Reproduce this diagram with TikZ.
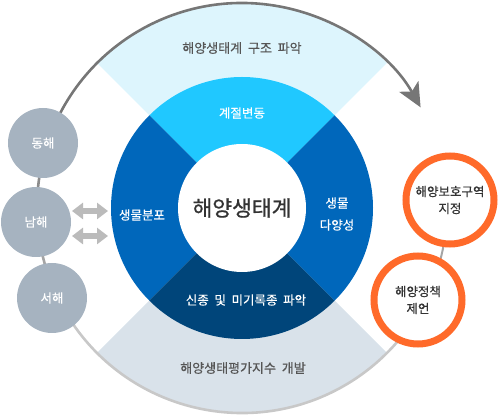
\documentclass[tikz,border=0pt]{standalone}
\usepackage{fontspec}
\setmainfont{Noto Sans CJK KR}[WordSpace=2, FakeBold=0.4]
\newfontfamily\bigfont{Noto Sans CJK KR}[FakeBold=0.8]
\usetikzlibrary{arrows.meta}
\definecolor{cyanq}{RGB}{32,200,255}
\definecolor{blueq}{RGB}{0,103,187}
\definecolor{darkq}{RGB}{0,69,122}
\definecolor{lcyan}{RGB}{221,245,253}
\definecolor{lgray}{RGB}{217,226,234}
\definecolor{seac}{RGB}{166,179,192}
\definecolor{arcd}{RGB}{118,118,118}
\definecolor{arcm}{RGB}{140,140,140}
\definecolor{arcl}{RGB}{165,165,165}
\definecolor{arcb}{RGB}{200,200,200}
\definecolor{orng}{RGB}{255,106,42}
\definecolor{dbl}{RGB}{187,187,187}
\definecolor{txtg}{RGB}{85,85,85}
\definecolor{txtd}{RGB}{51,51,51}
\begin{document}
\begin{tikzpicture}[x=1pt,y=1pt,
  arcline/.style={line width=2.6pt},
  sea/.style={circle, fill=seac, minimum size=70pt, inner sep=0pt, text=white, font=\fontsize{12.5}{15}\selectfont},
  act/.style={circle, draw=orng, line width=7pt, fill=white, minimum size=88pt, inner sep=0pt, align=center, text=txtd, font=\fontsize{12.5}{17}\selectfont},
  qlabel/.style={text=white, align=center, font=\fontsize{12.5}{22}\selectfont},
  olabel/.style={text=txtg, font=\fontsize{13}{15}\selectfont},
  dblarrow/.style={dbl, line width=6pt, {Triangle[length=11pt,width=16pt]}-{Triangle[length=11pt,width=16pt]}}
]
\useasboundingbox (0,0) rectangle (501,415);
\coordinate (C) at (242,207);
% outer light wedges
\fill[lcyan] (C) -- ++(45:205) arc[start angle=45,end angle=135,radius=205] -- cycle;
\fill[lgray] (C) -- ++(225:205) arc[start angle=225,end angle=315,radius=205] -- cycle;
% outer ring arcs
\draw[arcline, arcb] (C) ++(210:205) arc[start angle=210,end angle=338,radius=205];
\draw[line width=2pt, arcl] (C) ++(330:205) arc[start angle=330,end angle=365,radius=205];
\draw[arcline, arcl] (C) ++(190:205) arc[start angle=190,end angle=212,radius=205];
\draw[arcline, arcm] (C) ++(170:205) arc[start angle=170,end angle=191,radius=205];
\draw[arcline, arcd, -{Stealth[length=24pt,width=22pt,inset=6pt]}] (C) ++(171:205) arc[start angle=171,end angle=29.4,radius=205];
% main circle quadrants
\fill[cyanq] (C) -- ++(45:131) arc[start angle=45,end angle=135,radius=131] -- cycle;
\fill[blueq] (C) -- ++(135:131) arc[start angle=135,end angle=225,radius=131] -- cycle;
\fill[darkq] (C) -- ++(225:131) arc[start angle=225,end angle=315,radius=131] -- cycle;
\fill[blueq] (C) -- ++(315:131) arc[start angle=315,end angle=405,radius=131] -- cycle;
\node[circle, fill=white, minimum size=128pt, inner sep=0pt, text=txtd, font=\bigfont\fontsize{21.5}{25}\selectfont] (eco) at (C) {해양생태계};
% quadrant labels
\node[qlabel] (q1) at (242,302) {계절변동};
\node[qlabel] (q2) at (142,200) {생물분포};
\node[qlabel] (q3) at (337,201) {생물\\다양성};
\node[qlabel] (q4) at (246,115) {신종 및 미기록종 파악};
% outer labels
\node[olabel] (o1) at (242,367) {해양생태계 구조 파악};
\node[olabel] (o2) at (243,47) {해양생태평가지수 개발};
% seas
\node[sea] (dh) at (43,272) {동해};
\node[sea] (nh) at (36,193) {남해};
\node[sea] (sh) at (52,117) {서해};
% double arrows
\coordinate (a1l) at (72,204);
\coordinate (a1r) at (108,204);
\coordinate (a2l) at (72,179);
\coordinate (a2r) at (108,179);
\draw[dblarrow] (a1l) -- (a1r);
\draw[dblarrow] (a2l) -- (a2r);
% actions
\node[act] (mpa) at (450,215) {해양보호구역\\지정};
\node[act] (pol) at (418,115) {해양정책\\제언};
\end{tikzpicture}
\end{document}
